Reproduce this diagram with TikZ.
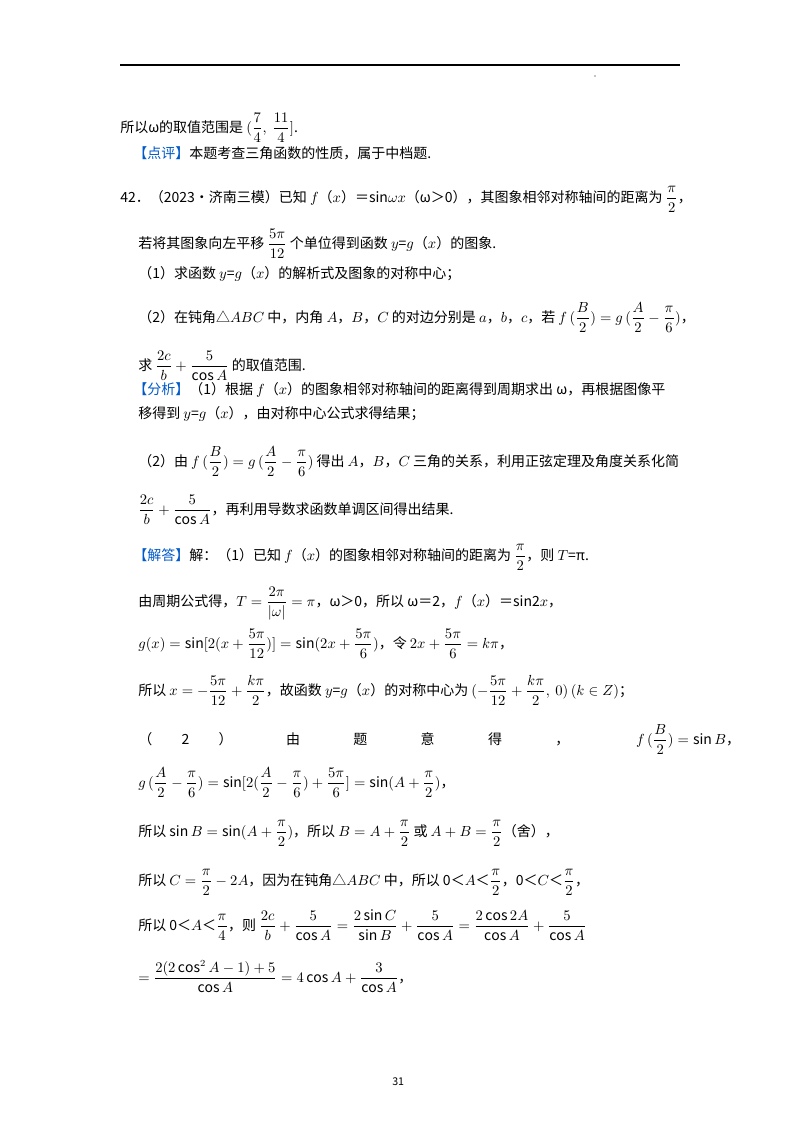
\documentclass[tikz,border=0pt]{standalone}
\usepackage{amsmath}
\usepackage{fontspec}
\setmainfont{Noto Sans CJK SC}
\definecolor{hd}{RGB}{0,90,200}
\begin{document}
\begin{tikzpicture}[x=0.75pt,y=-0.75pt,
  ln/.style={anchor=base west,inner sep=0pt,font=\fontsize{10.5}{12}\selectfont}]
\useasboundingbox (0,0) rectangle (800,1132);
\draw[line width=0.8pt] (120,65) -- (680,65);
\fill (595,76) circle (0.6);
\node[ln] (l1) at (120,132) {所以ω的取值范围是 $(\dfrac{7}{4},\ \dfrac{11}{4}]$.};
\node[ln] (l2) at (133,158) {\textcolor{hd}{【点评】}本题考查三角函数的性质，属于中档题.};
\node[ln] (l3) at (120,202) {42．（2023•济南三模）已知 $f$（$x$）＝sin$\omega x$（ω＞0），其图象相邻对称轴间的距离为 $\dfrac{\pi}{2}$，};
\node[ln] (l4) at (138,248) {若将其图象向左平移 $\dfrac{5\pi}{12}$ 个单位得到函数 $y$=$g$（$x$）的图象.};
\node[ln] (l5) at (138,278) {（1）求函数 $y$=$g$（$x$）的解析式及图象的对称中心；};
\node[ln] (l6) at (138,322) {（2）在钝角△$ABC$ 中，内角 $A$，$B$，$C$ 的对边分别是 $a$，$b$，$c$，若 $f\,(\dfrac{B}{2})=g\,(\dfrac{A}{2}-\dfrac{\pi}{6})$，};
\node[ln] (l7) at (138,370) {求 $\dfrac{2c}{b}+\dfrac{5}{\cos A}$ 的取值范围.};
\node[ln] (l8) at (133,394) {\textcolor{hd}{【分析】}（1）根据 $f$（$x$）的图象相邻对称轴间的距离得到周期求出 ω，再根据图像平};
\node[ln] (l9) at (138,418) {移得到 $y$=$g$（$x$），由对称中心公式求得结果；};
\node[ln] (l10) at (138,466) {（2）由 $f\,(\dfrac{B}{2})=g\,(\dfrac{A}{2}-\dfrac{\pi}{6})$ 得出 $A$，$B$，$C$ 三角的关系，利用正弦定理及角度关系化简};
\node[ln] (l11) at (138,514) {$\dfrac{2c}{b}+\dfrac{5}{\cos A}$，再利用导数求函数单调区间得出结果.};
\node[ln] (l12) at (133,560) {\textcolor{hd}{【解答】}解：（1）已知 $f$（$x$）的图象相邻对称轴间的距离为 $\dfrac{\pi}{2}$，则 $T$=π.};
\node[ln] (l13) at (138,606) {由周期公式得，$T=\dfrac{2\pi}{|\omega|}=\pi$，ω＞0，所以 ω＝2，$f$（$x$）＝sin2$x$，};
\node[ln] (l14) at (138,648) {$g(x)=\sin[2(x+\dfrac{5\pi}{12})]=\sin(2x+\dfrac{5\pi}{6})$，令 $2x+\dfrac{5\pi}{6}=k\pi$，};
\node[ln] (l15) at (138,695) {所以 $x=-\dfrac{5\pi}{12}+\dfrac{k\pi}{2}$，故函数 $y$=$g$（$x$）的对称中心为 $(-\dfrac{5\pi}{12}+\dfrac{k\pi}{2},\ 0)\,(k\in Z)$；};
\node[ln] (l16) at (138,744) {（\hspace{22pt}2\hspace{22pt}）\hspace{40pt}由\hspace{40pt}题\hspace{40pt}意\hspace{40pt}得\hspace{40pt}，\hspace{50pt}$f\,(\dfrac{B}{2})=\sin B$，};
\node[ln] (l17) at (138,787) {$g\,(\dfrac{A}{2}-\dfrac{\pi}{6})=\sin[2(\dfrac{A}{2}-\dfrac{\pi}{6})+\dfrac{5\pi}{6}]=\sin(A+\dfrac{\pi}{2})$，};
\node[ln] (l18) at (138,836) {所以 $\sin B=\sin(A+\dfrac{\pi}{2})$，所以 $B=A+\dfrac{\pi}{2}$ 或 $A+B=\dfrac{\pi}{2}$（舍），};
\node[ln] (l19) at (138,885) {所以 $C=\dfrac{\pi}{2}-2A$，因为在钝角△$ABC$ 中，所以 0＜$A$＜$\dfrac{\pi}{2}$，0＜$C$＜$\dfrac{\pi}{2}$，};
\node[ln] (l20) at (138,930) {所以 0＜$A$＜$\dfrac{\pi}{4}$，则 $\dfrac{2c}{b}+\dfrac{5}{\cos A}=\dfrac{2\sin C}{\sin B}+\dfrac{5}{\cos A}=\dfrac{2\cos 2A}{\cos A}+\dfrac{5}{\cos A}$};
\node[ln] (l21) at (138,982) {$=\dfrac{2(2\cos^2A-1)+5}{\cos A}=4\cos A+\dfrac{3}{\cos A}$，};
\node[ln,font=\fontsize{8}{9}\selectfont] (pg) at (392,1085) {31};
\end{tikzpicture}
\end{document}
